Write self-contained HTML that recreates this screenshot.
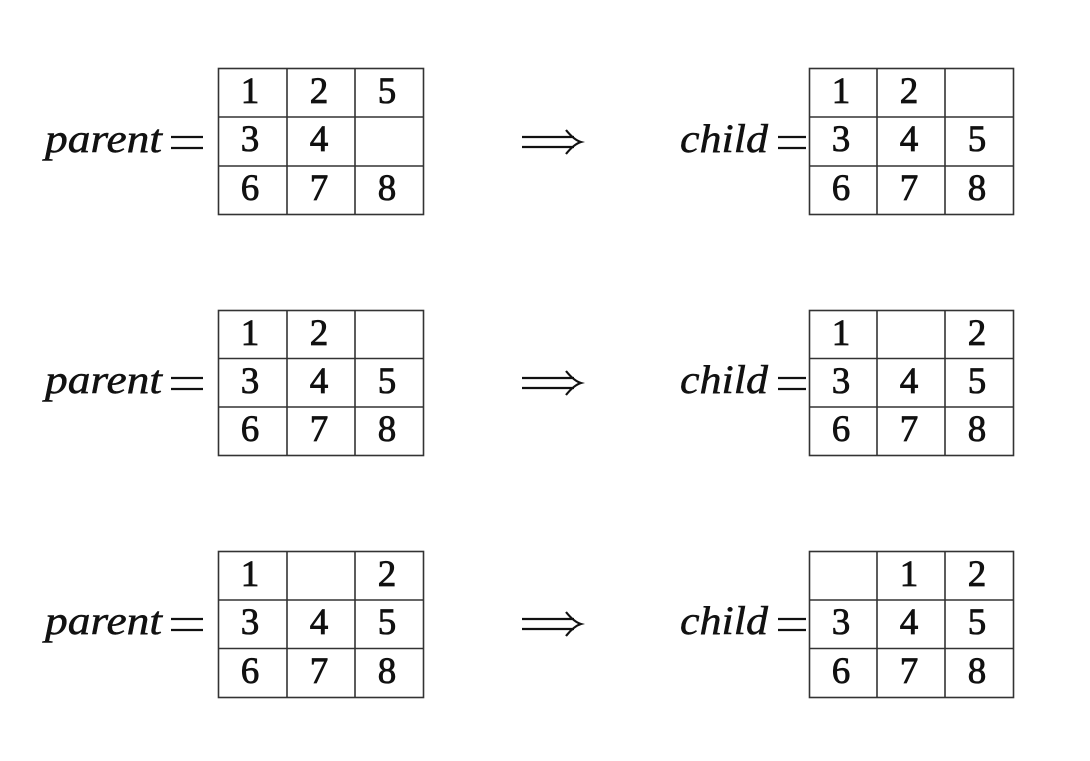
<!DOCTYPE html>
<html><head><meta charset="utf-8"><style>html,body{margin:0;padding:0;background:#fff}svg{display:block}</style></head>
<body>
<svg width="1090" height="761" viewBox="0 0 1090 761" xmlns="http://www.w3.org/2000/svg" font-family="Liberation Serif, serif">
<g stroke="#333" stroke-width="1.6" fill="none">
<rect x="218.5" y="68.5" width="205" height="146"/><line x1="287" y1="68.5" x2="287" y2="214.5"/><line x1="355" y1="68.5" x2="355" y2="214.5"/><line x1="218.5" y1="117" x2="423.5" y2="117"/><line x1="218.5" y1="166" x2="423.5" y2="166"/>
<rect x="809.5" y="68.5" width="204" height="146"/><line x1="877" y1="68.5" x2="877" y2="214.5"/><line x1="945" y1="68.5" x2="945" y2="214.5"/><line x1="809.5" y1="117" x2="1013.5" y2="117"/><line x1="809.5" y1="166" x2="1013.5" y2="166"/>
<rect x="218.5" y="310.5" width="205" height="145"/><line x1="287" y1="310.5" x2="287" y2="455.5"/><line x1="355" y1="310.5" x2="355" y2="455.5"/><line x1="218.5" y1="358.5" x2="423.5" y2="358.5"/><line x1="218.5" y1="407" x2="423.5" y2="407"/>
<rect x="809.5" y="310.5" width="204" height="145"/><line x1="877" y1="310.5" x2="877" y2="455.5"/><line x1="945" y1="310.5" x2="945" y2="455.5"/><line x1="809.5" y1="358.5" x2="1013.5" y2="358.5"/><line x1="809.5" y1="407" x2="1013.5" y2="407"/>
<rect x="218.5" y="551.5" width="205" height="146"/><line x1="287" y1="551.5" x2="287" y2="697.5"/><line x1="355" y1="551.5" x2="355" y2="697.5"/><line x1="218.5" y1="600" x2="423.5" y2="600"/><line x1="218.5" y1="648.5" x2="423.5" y2="648.5"/>
<rect x="809.5" y="551.5" width="204" height="146"/><line x1="877" y1="551.5" x2="877" y2="697.5"/><line x1="945" y1="551.5" x2="945" y2="697.5"/><line x1="809.5" y1="600" x2="1013.5" y2="600"/><line x1="809.5" y1="648.5" x2="1013.5" y2="648.5"/>
</g>
<g font-size="37" fill="#111" stroke="#111" stroke-width="0.8" text-anchor="middle">
<text x="250" y="103">1</text><text x="319" y="103">2</text><text x="387" y="103">5</text>
<text x="250" y="151">3</text><text x="319" y="151">4</text>
<text x="250" y="200">6</text><text x="319" y="200">7</text><text x="387" y="200">8</text>
<text x="841" y="103">1</text><text x="909" y="103">2</text>
<text x="841" y="151">3</text><text x="909" y="151">4</text><text x="977" y="151">5</text>
<text x="841" y="200">6</text><text x="909" y="200">7</text><text x="977" y="200">8</text>
<text x="250" y="345">1</text><text x="319" y="345">2</text>
<text x="250" y="393">3</text><text x="319" y="393">4</text><text x="387" y="393">5</text>
<text x="250" y="441">6</text><text x="319" y="441">7</text><text x="387" y="441">8</text>
<text x="841" y="345">1</text><text x="977" y="345">2</text>
<text x="841" y="393">3</text><text x="909" y="393">4</text><text x="977" y="393">5</text>
<text x="841" y="441">6</text><text x="909" y="441">7</text><text x="977" y="441">8</text>
<text x="250" y="586">1</text><text x="387" y="586">2</text>
<text x="250" y="634">3</text><text x="319" y="634">4</text><text x="387" y="634">5</text>
<text x="250" y="683">6</text><text x="319" y="683">7</text><text x="387" y="683">8</text>
<text x="909" y="586">1</text><text x="977" y="586">2</text>
<text x="841" y="634">3</text><text x="909" y="634">4</text><text x="977" y="634">5</text>
<text x="841" y="683">6</text><text x="909" y="683">7</text><text x="977" y="683">8</text>
</g>
<g font-size="40" fill="#111" stroke="#111" stroke-width="0.5" font-style="italic">
<text x="45" y="152" textLength="117" lengthAdjust="spacingAndGlyphs">parent</text>
<text x="45" y="393" textLength="117" lengthAdjust="spacingAndGlyphs">parent</text>
<text x="45" y="634" textLength="117" lengthAdjust="spacingAndGlyphs">parent</text>
<text x="680" y="152" textLength="88" lengthAdjust="spacingAndGlyphs">child</text>
<text x="680" y="393" textLength="88" lengthAdjust="spacingAndGlyphs">child</text>
<text x="680" y="634" textLength="88" lengthAdjust="spacingAndGlyphs">child</text>
</g>
<g stroke="#111" stroke-width="2.2" fill="none">
<path d="M171 137H203M171 148H203"/><path d="M171 378H203M171 389H203"/><path d="M171 619H203M171 630H203"/>
<path d="M778 137H806M778 148H806"/><path d="M778 378H806M778 389H806"/><path d="M778 619H806M778 630H806"/>
<path d="M522 137H574M522 147H574M566 130Q574 140 581 142Q574 144 566 154"/>
<path d="M522 378H574M522 388H574M566 371Q574 381 581 383Q574 385 566 395"/>
<path d="M522 619H574M522 629H574M566 612Q574 622 581 624Q574 626 566 636"/>
</g>
</svg>
</body></html>
